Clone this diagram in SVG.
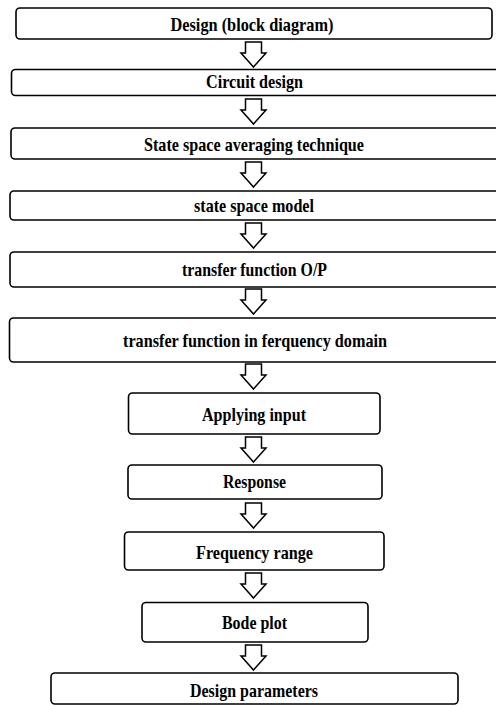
<svg xmlns="http://www.w3.org/2000/svg" width="496" height="706" viewBox="0 0 496 706">
<defs>
<style>
.box{fill:#fff;stroke:#000;stroke-width:1.6}
.lbl{font-family:"Liberation Serif","Times New Roman",serif;font-weight:bold;font-size:19px;fill:#000;text-anchor:middle}
.arr{fill:#fff;stroke:#000;stroke-width:1.5;stroke-linejoin:miter}
</style>
<path id="dn" d="M-8,0 H8 V11 H12.5 L0,25 L-12.5,11 H-8 Z"/>
</defs>
<rect width="496" height="706" fill="#fff"/>
<g id="connectors">
<use href="#dn" class="arr" x="253.5" y="42"/>
<use href="#dn" class="arr" x="253.5" y="99"/>
<use href="#dn" class="arr" x="253.5" y="162"/>
<use href="#dn" class="arr" x="253.5" y="223"/>
<use href="#dn" class="arr" x="253.5" y="289"/>
<use href="#dn" class="arr" x="253.5" y="364"/>
<use href="#dn" class="arr" x="253.5" y="437"/>
<use href="#dn" class="arr" x="253.5" y="503"/>
<use href="#dn" class="arr" x="253.5" y="573"/>
<use href="#dn" class="arr" x="253.5" y="645"/>
</g>
<g id="n1"><rect class="box" x="16" y="8" width="476" height="31" rx="4"/><text class="lbl" x="252" y="30.5" textLength="163" lengthAdjust="spacingAndGlyphs">Design (block diagram)</text></g>
<g id="n2"><rect class="box" x="11.5" y="69.5" width="500" height="26" rx="4"/><text class="lbl" x="254.5" y="87.5" textLength="97" lengthAdjust="spacingAndGlyphs">Circuit design</text></g>
<g id="n3"><rect class="box" x="11" y="128" width="500" height="31" rx="4"/><text class="lbl" x="254" y="150.5" textLength="220" lengthAdjust="spacingAndGlyphs">State space averaging technique</text></g>
<g id="n4"><rect class="box" x="10" y="191" width="500" height="29" rx="4"/><text class="lbl" x="254" y="211.5" textLength="120" lengthAdjust="spacingAndGlyphs">state space model</text></g>
<g id="n5"><rect class="box" x="10" y="252" width="500" height="35" rx="4"/><text class="lbl" x="254.5" y="275.5" textLength="145" lengthAdjust="spacingAndGlyphs">transfer function O/P</text></g>
<g id="n6"><rect class="box" x="9.5" y="318" width="500" height="44" rx="4"/><text class="lbl" x="255" y="346.5" textLength="264" lengthAdjust="spacingAndGlyphs">transfer function in ferquency domain</text></g>
<g id="n7"><rect class="box" x="128.5" y="393" width="251.5" height="41" rx="4"/><text class="lbl" x="254" y="420.5" textLength="104" lengthAdjust="spacingAndGlyphs">Applying input</text></g>
<g id="n8"><rect class="box" x="128" y="465" width="254" height="34" rx="4"/><text class="lbl" x="254.5" y="488" textLength="63" lengthAdjust="spacingAndGlyphs">Response</text></g>
<g id="n9"><rect class="box" x="124.5" y="532" width="259.5" height="38" rx="4"/><text class="lbl" x="254.5" y="558.5" textLength="117" lengthAdjust="spacingAndGlyphs">Frequency range</text></g>
<g id="n10"><rect class="box" x="142" y="602.5" width="226" height="39.5" rx="4"/><text class="lbl" x="254.5" y="628.5" textLength="65" lengthAdjust="spacingAndGlyphs">Bode plot</text></g>
<g id="n11"><rect class="box" x="51" y="673" width="407" height="31" rx="4"/><text class="lbl" x="254" y="697" textLength="128" lengthAdjust="spacingAndGlyphs">Design parameters</text></g>
</svg>
